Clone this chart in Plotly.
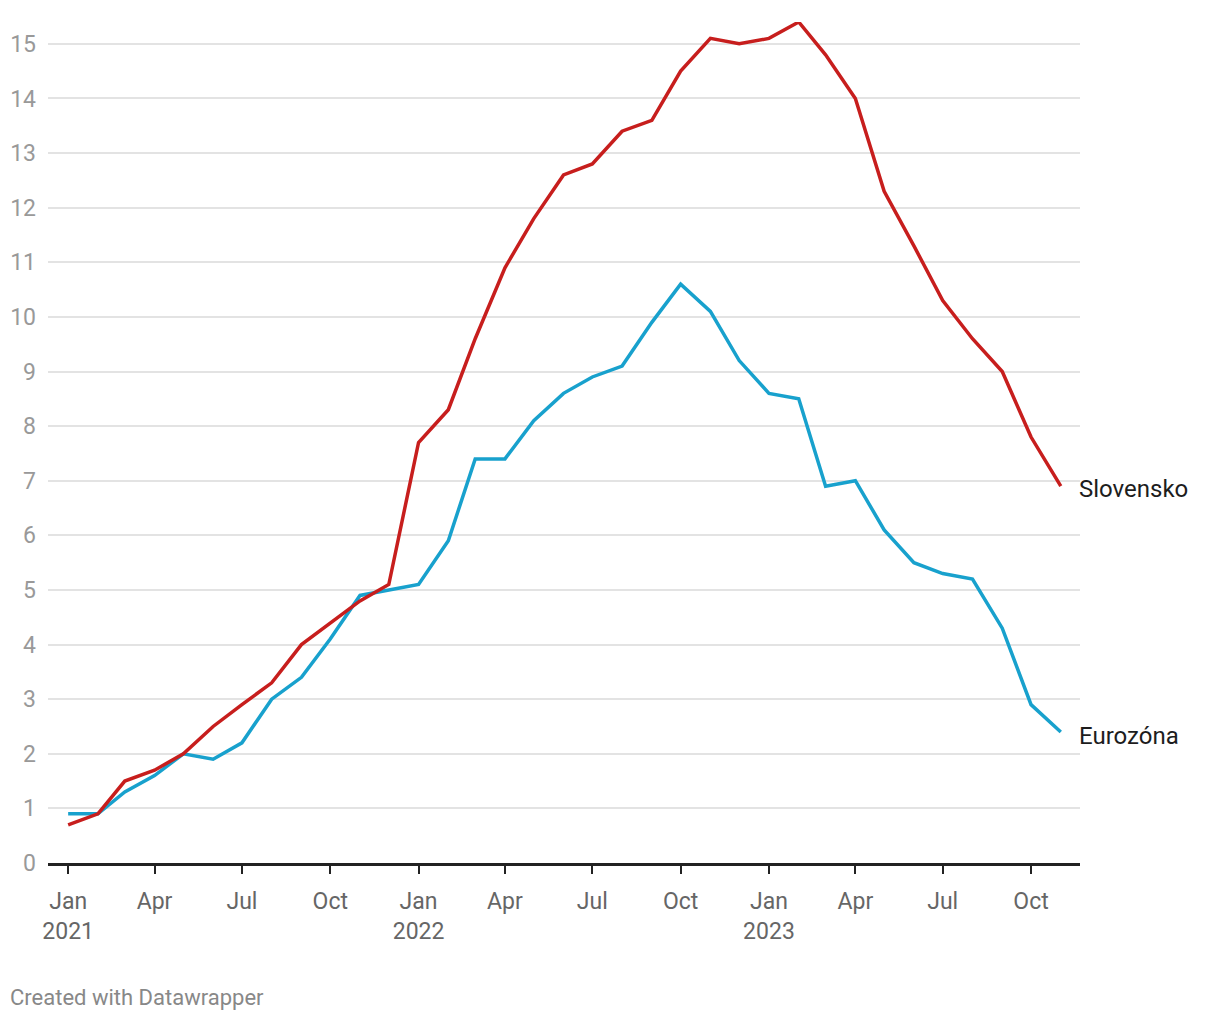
import plotly.graph_objects as go
import pandas as pd

months = pd.date_range("2021-01-01", "2023-11-01", freq="MS").strftime("%Y-%m-%d").tolist()

eurozona = [0.9, 0.9, 1.3, 1.6, 2.0, 1.9, 2.2, 3.0, 3.4, 4.1, 4.9, 5.0,
            5.1, 5.9, 7.4, 7.4, 8.1, 8.6, 8.9, 9.1, 9.9, 10.6, 10.1, 9.2,
            8.6, 8.5, 6.9, 7.0, 6.1, 5.5, 5.3, 5.2, 4.3, 2.9, 2.4]
slovensko = [0.7, 0.9, 1.5, 1.7, 2.0, 2.5, 2.9, 3.3, 4.0, 4.4, 4.8, 5.1,
             7.7, 8.3, 9.6, 10.9, 11.8, 12.6, 12.8, 13.4, 13.6, 14.5, 15.1, 15.0,
             15.1, 15.4, 14.8, 14.0, 12.3, 11.3, 10.3, 9.6, 9.0, 7.8, 6.9]

x_tickvals = ["2021-01-01", "2021-04-01", "2021-07-01", "2021-10-01",
              "2022-01-01", "2022-04-01", "2022-07-01", "2022-10-01",
              "2023-01-01", "2023-04-01", "2023-07-01", "2023-10-01"]
x_ticktext = ["Jan<br>2021", "Apr", "Jul", "Oct",
              "Jan<br>2022", "Apr", "Jul", "Oct",
              "Jan<br>2023", "Apr", "Jul", "Oct"]
y_tickvals = list(range(0, 16))

RED = "#c71e1d"
BLUE = "#18a1cd"

fig = go.Figure()
fig.add_trace(go.Scatter(x=months, y=eurozona, mode="lines", name="Eurozóna",
                         line=dict(color=BLUE, width=3.5), hoverinfo="skip"))
fig.add_trace(go.Scatter(x=months, y=slovensko, mode="lines", name="Slovensko",
                         line=dict(color=RED, width=3.5), hoverinfo="skip"))

fig.add_annotation(x=months[-1], y=slovensko[-1], xref="x", yref="y",
                   text="Slovensko", showarrow=False, xanchor="left", yanchor="middle",
                   xshift=16, yshift=-3, font=dict(family="Roboto", size=24, color="#1d1d1d"))
fig.add_annotation(x=months[-1], y=eurozona[-1], xref="x", yref="y",
                   text="Eurozóna", showarrow=False, xanchor="left", yanchor="middle",
                   xshift=16, yshift=-4, font=dict(family="Roboto", size=24, color="#1d1d1d"))
fig.add_annotation(x=0, y=0, xref="paper", yref="paper", text="Created with Datawrapper",
                   showarrow=False, xanchor="left", yanchor="middle",
                   xshift=-40, yshift=-134, font=dict(family="Roboto", size=22, color="#888888"))

fig.update_layout(
    width=1204, height=1004,
    margin=dict(l=40, r=132, t=14, b=149, autoexpand=False),
    paper_bgcolor="white", plot_bgcolor="white",
    showlegend=False,
    font=dict(family="Roboto", size=23, color="#666666"),
)
fig.update_xaxes(
    type="date", range=["2020-12-11", "2023-11-21"],
    tickvals=x_tickvals, ticktext=x_ticktext,
    showgrid=False, zeroline=False, automargin=False,
    showline=True, linecolor="#222222", linewidth=2.5,
    ticks="outside", ticklen=8, tickwidth=2, tickcolor="#222222",
    tickfont=dict(family="Roboto", size=23, color="#666666"),
    ticklabelstandoff=8,
)
fig.update_yaxes(
    range=[0, 15.4], tickvals=y_tickvals, automargin=False,
    showgrid=True, gridcolor="#e3e3e3", gridwidth=1.5,
    zeroline=False, showline=False, ticks="",
    tickfont=dict(family="Roboto", size=23, color="#999999"),
    ticklabelstandoff=11,
)

fig.write_html("out.html")
